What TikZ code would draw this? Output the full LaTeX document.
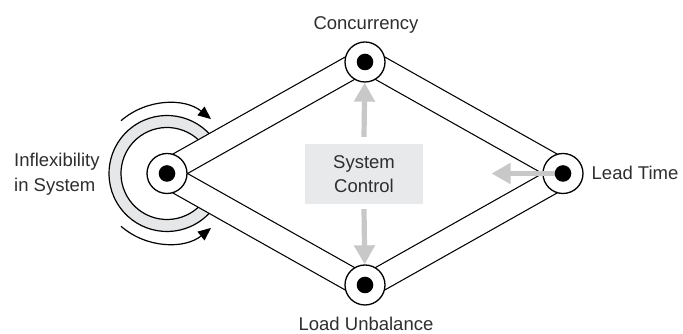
\documentclass[tikz,border=0pt]{standalone}
\usepackage{fontspec}
\setmainfont{Liberation Sans}
\usetikzlibrary{calc,arrows.meta,backgrounds}
\definecolor{ringgray}{HTML}{E6E7E8}
\definecolor{boxgray}{HTML}{E8E9EB}
\definecolor{arrowgray}{HTML}{C8C8C8}
\definecolor{inkgray}{HTML}{2E2E2E}

\begin{document}
\begin{tikzpicture}[x=1pt,y=1pt,
  hubnode/.style={circle,draw=black,fill=white,line width=1.3pt,minimum size=40pt,inner sep=0pt},
  bandrim/.style={line width=25.2pt,draw=black},
  bandcore/.style={line width=22.8pt,draw=white},
  words/.style={text=inkgray,font=\fontsize{18.5}{24.5}\selectfont,inner sep=0pt},
  spinarrow/.style={line width=1.2pt,-{Triangle[length=13pt,width=11pt]}},
  grayarrow/.style={line width=5.2pt,draw=arrowgray,-{Triangle[length=19pt,width=20pt]}},
]
\useasboundingbox (0,0) rectangle (683,334);

% the four hubs of the diamond
\node[hubnode] (L) at (167,160.5) {};
\node[hubnode] (T) at (365,272) {};
\node[hubnode] (R) at (563,160.5) {};
\node[hubnode] (B) at (365,49) {};

\begin{scope}[on background layer]
  % shaded ring around the left hub
  \draw[line width=12pt,draw=ringgray] ([shift={(30:52pt)}]L.center) arc[start angle=30,end angle=330,radius=52pt];
  \draw[line width=1.2pt] ([shift={(30:46pt)}]L.center) arc[start angle=30,end angle=330,radius=46pt];
  \draw[line width=1.2pt] ([shift={(30:58pt)}]L.center) arc[start angle=30,end angle=330,radius=58pt];
  % the hollow bands joining the hubs (nudged slightly outward)
  \foreach \a/\b in {L/T,T/R,R/B,B/L}
    \draw[bandrim] ($(\a.center)!2pt!90:(\b.center)$) -- ($(\b.center)!2pt!-90:(\a.center)$);
  \foreach \a/\b in {L/T,T/R,R/B,B/L}
    \draw[bandcore] ($(\a.center)!2pt!90:(\b.center)$) -- ($(\b.center)!2pt!-90:(\a.center)$);
\end{scope}

% rotation arrows around the left hub
\draw[spinarrow] ([shift={(131:70pt)}]L.center) arc[start angle=131,end angle=51,radius=70pt];
\draw[spinarrow] ([shift={(229:70pt)}]L.center) arc[start angle=229,end angle=309,radius=70pt];

% central control box
\node[words,fill=boxgray,minimum width=118pt,minimum height=60pt,align=center] (C) at (364,160) {System\\Control};

% gray influence arrows
\draw[grayarrow] ([yshift=7pt]C.north) -- (T);
\draw[grayarrow] ([yshift=-5pt]C.south) -- (B);
\coordinate (Rtip) at (491.5,160.5);
\draw[grayarrow] ([xshift=-4pt]R.center) -- (Rtip);

% hub centres
\foreach \n in {L,T,R,B} \fill (\n.center) circle (8.3pt);

% labels
\node[words,anchor=base] (conc) at (366,304) {Concurrency};
\node[words,anchor=base] (load) at (366,3.5) {Load Unbalance};
\node[words,anchor=base west] (lead) at (591.5,154) {Lead Time};
\node[words,anchor=west,align=left] (infl) at (14,160) {Inflexibility\\in System};
\end{tikzpicture}
\end{document}
